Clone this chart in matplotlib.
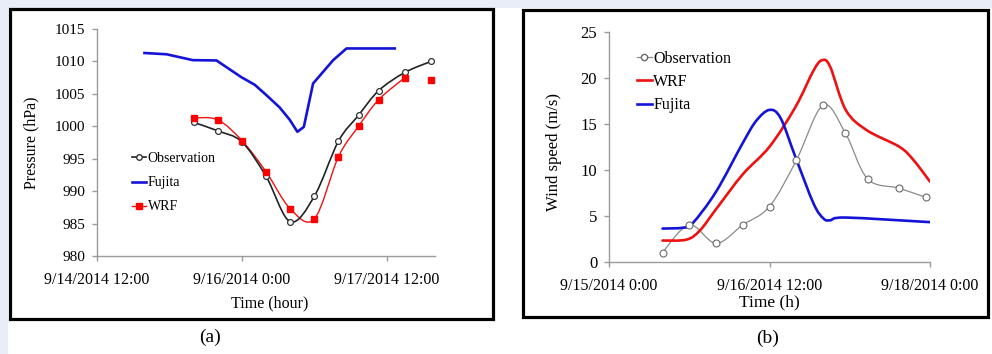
"""Typhoon track comparison: sea-level pressure (a) and wind speed (b)."""

import matplotlib
matplotlib.use("Agg")
import matplotlib.pyplot as plt
from matplotlib.lines import Line2D
from matplotlib.patches import PathPatch, Rectangle
from matplotlib.path import Path

plt.rcParams["font.family"] = ["Liberation Serif", "DejaVu Serif"]

# ---- (a) pressure, hours since 9/14/2014 12:00 ----
p_hours = [24, 30, 36, 42, 48, 54, 60, 65, 70, 76.5, 83]
p_obs = [1000.6, 999.3, 997.6, 992.3, 985.3, 989.2, 997.7, 1001.7, 1005.5, 1008.3, 1010.0]
p_wrf = [1001.3, 1001.0, 997.8, 993.0, 987.3, 985.7, 995.3, 1000.0, 1004.1, 1007.5, 1007.1]
p_fujita_hours = [11.8, 17.3, 23.8, 29.7, 35.8, 39.2, 42.1, 45.4, 47.9, 49.8, 51.4,
                  53.7, 58.7, 62.0, 74.0]
p_fujita = [1011.3, 1011.1, 1010.2, 1010.15, 1007.6, 1006.4, 1004.8, 1002.9, 1001.0,
            999.15, 999.9, 1006.6, 1010.2, 1012.0, 1012.0]
p_ticks = [0, 36, 72]
p_ticklabels = ["9/14/2014 12:00", "9/16/2014 0:00", "9/17/2014 12:00"]

# ---- (b) wind speed, hours since 9/15/2014 0:00 ----
w_obs_hours = [12, 18, 24, 30, 36, 42, 48, 53, 58, 65, 71]
w_obs = [1, 4, 2, 4, 6, 11, 17, 14, 9, 8, 7]
w_wrf_hours = [12, 17.4, 20.4, 24, 30, 36, 41.8, 45.9, 47.8, 49.6, 53.1, 57.8, 65.1, 68.3, 72]
w_wrf = [2.3, 2.4, 3.4, 5.7, 9.5, 12.5, 16.8, 20.8, 21.9, 21.2, 16.5, 14.3, 12.5, 11.05, 8.7]
w_fujita_hours = [12, 16.7, 18.8, 24, 30, 33, 36, 38.5, 41.8, 45.9, 48.1, 49.6, 53.1, 72]
w_fujita = [3.6, 3.7, 4.2, 7.6, 12.9, 15.3, 16.5, 15.6, 11.4, 6.3, 4.7, 4.5, 4.8, 4.3]
w_ticks = [0, 36, 72]
w_ticklabels = ["9/15/2014 0:00", "9/16/2014 12:00", "9/18/2014 0:00"]

W, H = 992, 354
BLUE = "#1414d8"
RED = "#ee1111"


def smooth_path(xs, ys):
    """Excel-style smoothed line: cubic Bezier through every data point."""
    pts = list(zip(xs, ys))
    verts = [pts[0]]
    codes = [Path.MOVETO]
    n = len(pts)
    for i in range(n - 1):
        p0 = pts[i - 1] if i > 0 else pts[i]
        p1 = pts[i]
        p2 = pts[i + 1]
        p3 = pts[i + 2] if i + 2 < n else pts[i + 1]
        c1 = (p1[0] + (p2[0] - p0[0]) / 6, p1[1] + (p2[1] - p0[1]) / 6)
        c2 = (p2[0] - (p3[0] - p1[0]) / 6, p2[1] - (p3[1] - p1[1]) / 6)
        verts += [c1, c2, p2]
        codes += [Path.CURVE4] * 3
    return Path(verts, codes)


def add_smooth(ax, xs, ys, color, lw, z=2):
    ax.add_patch(PathPatch(smooth_path(xs, ys), fill=False, edgecolor=color,
                           linewidth=lw, zorder=z, capstyle="round"))


def style_axes(ax, xtick_size, ytick_size):
    for side in ("top", "right"):
        ax.spines[side].set_visible(False)
    for side in ("left", "bottom"):
        ax.spines[side].set_color("#9a9a9a")
        ax.spines[side].set_linewidth(1.0)
    ax.tick_params(axis="both", direction="out", length=3.5, width=1.0, color="#9a9a9a")
    ax.tick_params(axis="x", labelsize=xtick_size, pad=8)
    ax.tick_params(axis="y", labelsize=ytick_size, pad=5)
    ax.set_facecolor("none")


def px_rect(x0, y0, x1, y1):
    return (x0 / W, 1 - y1 / H, (x1 - x0) / W, (y1 - y0) / H)


fig = plt.figure(figsize=(W / 100, H / 100), dpi=100, facecolor="white")

# light blue margin strips and panel frames, kept behind the axes
fig.patches.append(Rectangle((0, 0), 8 / W, 1, transform=fig.transFigure,
                             facecolor="#e8edf8", edgecolor="none", zorder=-10))
fig.patches.append(Rectangle((0, 1 - 8 / H), 1, 8 / H, transform=fig.transFigure,
                             facecolor="#e8edf8", edgecolor="none", zorder=-10))
for box in [(10, 9, 493, 319), (523, 10, 988, 317)]:
    x, y, w, h = px_rect(*box)
    fig.patches.append(Rectangle((x, y), w, h, transform=fig.transFigure, zorder=-5,
                                 facecolor="white", edgecolor="black", linewidth=2.3))

# ---------------- (a) ----------------
ax1 = fig.add_axes(px_rect(97, 29, 435, 256))
add_smooth(ax1, p_hours, p_obs, "#222222", 1.2, z=3)
ax1.plot(p_hours, p_obs, "o", ms=4.2, mfc="white", mec="#333333", mew=0.9, zorder=4)
add_smooth(ax1, p_hours[:-1], p_wrf[:-1], RED, 1.0, z=2)
ax1.plot(p_hours, p_wrf, "s", ms=5, color="#ff0000", zorder=5)
ax1.plot(p_fujita_hours, p_fujita, color=BLUE, lw=1.9, solid_joinstyle="round")

ax1.set_xlim(0, 84)
ax1.set_ylim(980, 1015)
ax1.set_xticks(p_ticks, p_ticklabels)
ax1.set_yticks(range(980, 1016, 5))
style_axes(ax1, 11.5, 11)
ax1.set_xlabel("Time (hour)", fontsize=11.5)
ax1.set_ylabel("Pressure (hPa)", fontsize=11.5)
ax1.xaxis.set_label_coords(0.51, -0.172)
ax1.yaxis.set_label_coords(-0.17, 0.5)

handles_a = [
    Line2D([], [], color="#222222", lw=1.2, marker="o", ms=4, mfc="white", mec="#333333"),
    Line2D([], [], color=BLUE, lw=1.9),
    Line2D([], [], color=RED, lw=1.0, marker="s", ms=5, mfc="#ff0000", mec="#ff0000"),
]
ax1.legend(handles_a, ["Observation", "Fujita", "WRF"], loc="upper left",
           bbox_to_anchor=(0.105, 0.457), frameon=False, fontsize=10,
           handlelength=1.0, handletextpad=0.1, labelspacing=0.8,
           borderpad=0, borderaxespad=0)

# ---------------- (b) ----------------
ax2 = fig.add_axes(px_rect(609, 31.7, 930, 261.7))
add_smooth(ax2, w_obs_hours, w_obs, "#8a8a8a", 0.9, z=2)
ax2.plot(w_obs_hours, w_obs, "o", ms=5, mfc="white", mec="#6a6a6a", mew=0.8, zorder=4)
add_smooth(ax2, w_wrf_hours, w_wrf, RED, 1.9, z=3)
add_smooth(ax2, w_fujita_hours, w_fujita, BLUE, 1.9, z=3)

ax2.set_xlim(0, 72)
ax2.set_ylim(0, 25)
ax2.set_xticks(w_ticks, w_ticklabels)
ax2.set_yticks(range(0, 26, 5))
style_axes(ax2, 11.5, 12)
ax2.set_xlabel("Time (h)", fontsize=12.5)
ax2.set_ylabel("Wind speed (m/s)", fontsize=12)
ax2.xaxis.set_label_coords(0.5, -0.14)
ax2.yaxis.set_label_coords(-0.145, 0.475)

handles_b = [
    Line2D([], [], color="#8a8a8a", lw=0.9, marker="o", ms=4.5, mfc="white", mec="#6a6a6a"),
    Line2D([], [], color=RED, lw=1.9),
    Line2D([], [], color=BLUE, lw=1.9),
]
ax2.legend(handles_b, ["Observation", "WRF", "Fujita"], loc="upper left",
           bbox_to_anchor=(0.088, 0.917), frameon=False, fontsize=11.5,
           handlelength=0.9, handletextpad=0.1, labelspacing=0.45,
           borderpad=0, borderaxespad=0)

# panel captions
fig.text(210 / W, 1 - 337 / H, "(a)", fontsize=14, ha="center", va="center")
fig.text(768 / W, 1 - 338 / H, "(b)", fontsize=14, ha="center", va="center")

fig.savefig("out.png", dpi=100, facecolor="white")
